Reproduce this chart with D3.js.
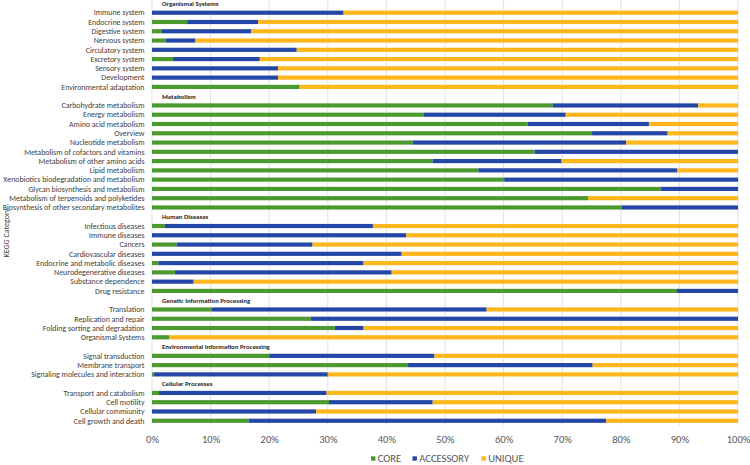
<!DOCTYPE html>
<html>
<head>
<meta charset="utf-8">
<script src="https://cdn.jsdelivr.net/npm/d3@7"></script>
<style>
  html, body { margin: 0; padding: 0; background: #fff; }
  svg { display: block; font-family: Carlito, "Liberation Sans Narrow", "Liberation Sans", Arial, sans-serif; }
</style>
</head>
<body>
<svg id="chart" width="750" height="465"></svg>
<script>
// ---- DATA ----
const groups = [
  "Organismal Systems",
  "Metabolism",
  "Human Diseases",
  "Genetic Information Processing",
  "Environmental Information Processing",
  "Cellular Processes"
];
const categories = [
  "Immune system", "Endocrine system", "Digestive system", "Nervous system", "Circulatory system",
  "Excretory system", "Sensory system", "Development", "Environmental adaptation",
  "Carbohydrate metabolism", "Energy metabolism", "Amino acid metabolism", "Overview",
  "Nucleotide metabolism", "Metabolism of cofactors and vitamins", "Metabolism of other amino acids",
  "Lipid metabolism", "Xenobiotics biodegradation and metabolism", "Glycan biosynthesis and metabolism",
  "Metabolism of terpenoids and polyketides", "Biosynthesis of other secondary metabolites",
  "Infectious diseases", "Immune diseases", "Cancers", "Cardiovascular diseases",
  "Endocrine and metabolic diseases", "Neurodegenerative diseases", "Substance dependence", "Drug resistance",
  "Translation", "Replication and repair", "Folding sorting and degradation", "Organismal Systems",
  "Signal transduction", "Membrane transport", "Signaling molecules and interaction",
  "Transport and catabolism", "Cell motility", "Cellular commiunity", "Cell growth and death"
];
const categoryGroup = [
  0,0,0,0,0,0,0,0,0,
  1,1,1,1,1,1,1,1,1,1,1,1,
  2,2,2,2,2,2,2,2,
  3,3,3,3,
  4,4,4,
  5,5,5,5
];
const core = [
  0, 6.0, 1.7, 2.4, 0, 3.6, 0, 0, 25.2,
  68.4, 46.4, 64.1, 75.1, 44.5, 65.3, 47.9, 55.7, 60.1, 86.8, 74.4, 80.2,
  2.2, 0, 4.2, 0, 1.1, 3.9, 0, 89.6,
  10.2, 27.1, 31.2, 2.9,
  20.0, 43.7, 0.3,
  1.2, 30.2, 0, 16.5
];
const accessory = [
  32.7, 12.1, 15.2, 5.0, 24.7, 14.8, 21.5, 21.5, 0,
  24.8, 24.2, 20.7, 12.9, 36.4, 34.7, 22.0, 33.9, 39.9, 13.2, 0, 19.8,
  35.5, 43.4, 23.2, 42.6, 35.0, 37.0, 7.1, 10.4,
  46.9, 72.9, 4.9, 0,
  28.2, 31.5, 29.7,
  28.6, 17.7, 28.0, 61.0
];
const unique = [
  67.3, 81.9, 83.1, 92.6, 75.3, 81.6, 78.5, 78.5, 74.8,
  6.8, 29.4, 15.2, 12.0, 19.1, 0, 30.1, 10.4, 0, 0, 25.6, 0,
  62.3, 56.6, 72.6, 57.4, 63.9, 59.1, 92.9, 0,
  42.9, 0, 63.9, 97.1,
  51.8, 24.8, 70.0,
  70.2, 52.1, 72.0, 22.5
];
const seriesNames = ["CORE", "ACCESSORY", "UNIQUE"];
const seriesColors = ["#4a9a30", "#2446a6", "#fdb71c"];
const xTicks = [0, 0.1, 0.2, 0.3, 0.4, 0.5, 0.6, 0.7, 0.8, 0.9, 1.0];

// ---- BUILD ROWS (group header rows + category rows) ----
const rows = [];
groups.forEach((g, gi) => {
  rows.push({ key: "H" + gi, label: g, header: true });
  categories.forEach((c, i) => {
    if (categoryGroup[i] === gi) {
      rows.push({ key: "C" + i, label: c, header: false, CORE: core[i], ACCESSORY: accessory[i], UNIQUE: unique[i] });
    }
  });
});
const barRows = rows.filter(r => !r.header);

// ---- SCALES ----
const svg = d3.select("#chart");
const plotLeft = 152, plotRight = 738, plotTop = -1.2, plotBottom = 425.4;

const x = d3.scaleLinear().domain([0, 1]).range([plotLeft, plotRight]);
const y = d3.scaleBand().domain(rows.map(r => r.key)).range([plotTop, plotBottom]).paddingInner(0.55).paddingOuter(0.275);
const color = d3.scaleOrdinal().domain(seriesNames).range(seriesColors);

// gridlines
svg.append("g").selectAll("line").data(xTicks).join("line")
  .attr("x1", d => x(d)).attr("x2", d => x(d))
  .attr("y1", 0).attr("y2", plotBottom)
  .attr("stroke", "#d9d9d9").attr("stroke-width", 0.8);

// header labels with white boxes
const headerRows = rows.filter(r => r.header);
const hg = svg.append("g");
const hItems = hg.selectAll("g").data(headerRows).join("g");
hItems.append("rect").attr("class", "hbox").attr("fill", "#fff");
hItems.append("text")
  .attr("x", plotLeft + 10)
  .attr("y", d => y(d.key) + y.bandwidth() / 2 + 0.3)
  .attr("dy", "0.35em")
  .attr("font-size", 6.8)
  .attr("font-weight", "bold")
  .attr("fill", "#262626")
  .text(d => d.label);
hItems.each(function () {
  const t = d3.select(this).select("text").node();
  const bb = t.getBBox();
  d3.select(this).select("rect")
    .attr("x", plotLeft + 2).attr("y", Math.max(0, bb.y - 2))
    .attr("width", bb.x + bb.width + 8 - (plotLeft + 2))
    .attr("height", bb.height + 3);
});

// stacked bars
const stack = d3.stack().keys(seriesNames).value((d, k) => d[k] / 100);
const stacked = stack(barRows);
svg.append("g").selectAll("g").data(stacked).join("g")
  .attr("fill", d => color(d.key))
  .selectAll("rect").data(d => d).join("rect")
  .attr("x", d => x(d[0]))
  .attr("width", d => Math.max(0, x(d[1]) - x(d[0])))
  .attr("y", d => y(d.data.key))
  .attr("height", y.bandwidth());

// y labels (category rows only)
svg.append("g").selectAll("text").data(barRows).join("text")
  .attr("x", plotLeft - 7.5)
  .attr("y", d => y(d.key) + y.bandwidth() / 2)
  .attr("dy", "0.35em")
  .attr("text-anchor", "end")
  .attr("font-size", 7.9)
  .attr("fill", "#404040")
  .text(d => d.label);

// x axis
const xAxis = d3.axisBottom(x).tickValues(xTicks).tickFormat(d3.format(".0%")).tickSize(0).tickPadding(0);
const gx = svg.append("g").attr("transform", `translate(0, ${plotBottom})`).call(xAxis);
gx.select(".domain").remove();
gx.attr("font-family", null);
gx.selectAll("text").attr("y", 14).attr("dy", "0.35em").attr("font-size", 10.6).attr("fill", "#595959");

// y axis title
svg.append("text")
  .attr("transform", "translate(6.5, 233) rotate(-90)")
  .attr("text-anchor", "middle")
  .attr("dy", "0.35em")
  .attr("font-size", 8)
  .attr("fill", "#404040")
  .text("KEGG Category");

// legend
const legendX = [371, 412.5, 481.5];
const lg = svg.append("g").selectAll("g").data(seriesNames).join("g")
  .attr("transform", (d, i) => `translate(${legendX[i]}, 458.5)`);
lg.append("rect").attr("x", 0).attr("y", -2.2).attr("width", 4.4).attr("height", 4.4).attr("fill", d => color(d));
lg.append("text").attr("x", 6.7).attr("dy", "0.35em").attr("font-size", 10.6).attr("fill", "#595959").text(d => d);
</script>
</body>
</html>
